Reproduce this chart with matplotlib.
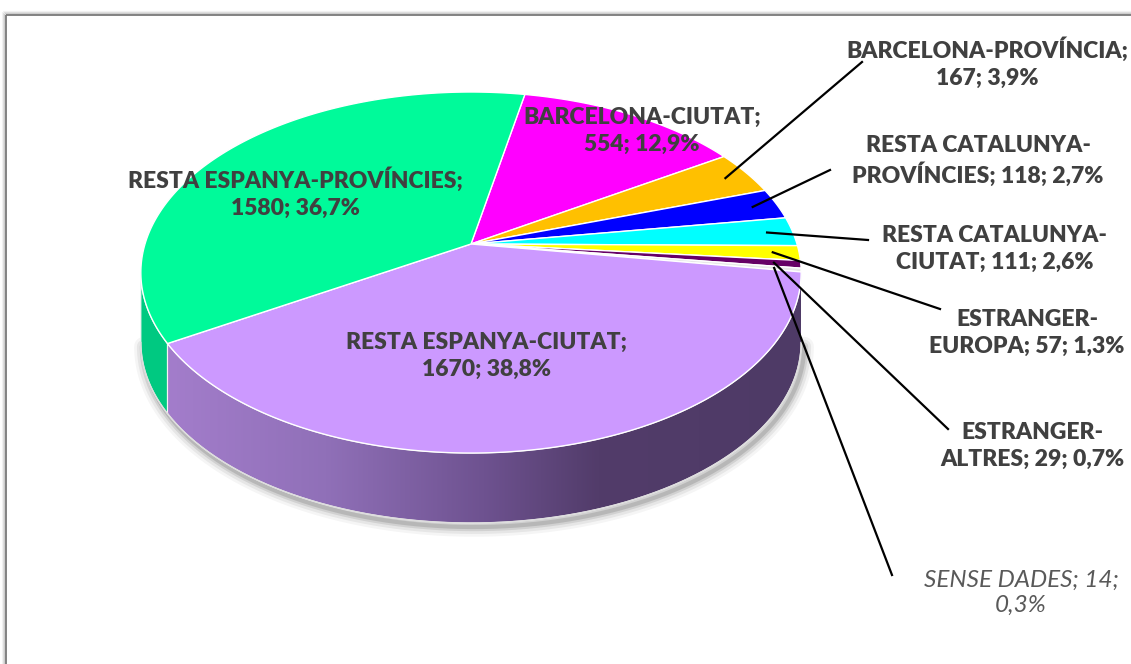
import numpy as np
import matplotlib
matplotlib.use("Agg")
import matplotlib.pyplot as plt
from matplotlib.patches import Polygon, Rectangle
from matplotlib.colors import LinearSegmentedColormap

# ---------------- data ----------------
categories = ["BARCELONA-CIUTAT", "BARCELONA-PROVÍNCIA", "RESTA CATALUNYA-PROVÍNCIES",
              "RESTA CATALUNYA-CIUTAT", "ESTRANGER-EUROPA", "ESTRANGER-ALTRES",
              "SENSE DADES", "RESTA ESPANYA-CIUTAT", "RESTA ESPANYA-PROVÍNCIES"]
values = [554, 167, 118, 111, 57, 29, 14, 1670, 1580]
colors = ["#FF00FF", "#FFC000", "#0000FF", "#00FFFF", "#FFFF00", "#660066",
          "#E8E8E8", "#CC99FF", "#00FA9A"]
side_colors = ["#B000B0", "#B08600", "#0000B0", "#00B0B0", "#B0B000", "#440044",
               "#A0A0A0", None, "#00C981"]
wrap = ["name", "name", "dash", "dash", "dash", "dash", "val", "name", "name"]
label_pos = [(642, 131), (987, 63), (978, 161), (995, 249), (1027, 333),
             (1032, 446), (1021, 593), (486, 356), (295, 193)]
leader_end = {1: (862, 62), 2: (830, 170), 3: (868, 240), 4: (940, 309),
              5: (948, 429), 6: (892, 575)}

# ---------------- geometry (pixels) ----------------
W, H = 1131, 664
CX, CY = 471, 244
A, B, P = 326, 176, 0.158
DEPTH = 70
START = 11.0


def proj(theta, r=1.0, dz=0.0):
    t = np.radians(theta)
    u = r * np.sin(t)
    v = r * np.cos(t)
    w = 1 + P * v
    return CX + A * u / w, CY - B * v / w + dz


fig = plt.figure(figsize=(W / 100, H / 100), dpi=100)
ax = fig.add_axes([0, 0, 1, 1])
ax.set_xlim(0, W)
ax.set_ylim(H, 0)
ax.axis("off")

# frame
for i, a in enumerate([0.05, 0.08, 0.12]):
    ax.add_patch(Rectangle((6 - 3 + i, 15 - 3 + i), 1200, 800, fill=False,
                           edgecolor="#000000", lw=1.5, alpha=a, zorder=0))
ax.add_patch(Rectangle((6, 15), 1200, 800, fill=False, edgecolor="#7A7A7A", lw=1.3, zorder=1))

total = sum(values)
fracs = np.array(values) / total
bounds = START + 360 * np.concatenate([[0], np.cumsum(fracs)])

vis0 = np.degrees(np.arccos(-P))          # right silhouette
vis1 = 360 - vis0                          # left silhouette

# shadow
ang = np.linspace(vis0, vis1, 200)
bx, by = proj(ang, dz=DEPTH)
for lw, al in [(14, 0.04), (10, 0.06), (6, 0.09), (3, 0.12)]:
    ax.plot(bx + 3, by + 4, color="#000000", lw=lw, alpha=al, solid_capstyle="round", zorder=2)

# side faces
lav_cmap = LinearSegmentedColormap.from_list(
    "lav", [(0, "#A37DCB"), (0.25, "#9070B8"), (0.5, "#6E5290"), (0.68, "#523C6A"), (1, "#4E3A66")])
for i in range(len(values)):
    a0, a1 = bounds[i], bounds[i + 1]
    for off in (0, 360):
        s0 = max(a0, vis0 + off)
        s1 = min(a1, vis1 + off)
        if s1 <= s0:
            continue
        aa = np.linspace(s0, s1, 150)
        x1, y1 = proj(aa)
        x2, y2 = proj(aa[::-1], dz=DEPTH)
        xs = np.concatenate([x1, x2])
        ys = np.concatenate([y1, y2])
        if side_colors[i] is None:
            poly = Polygon(np.column_stack([xs, ys]), closed=True, facecolor="none",
                           edgecolor="none", zorder=3)
            ax.add_patch(poly)
            grad = np.linspace(0, 1, 256).reshape(1, -1)
            im = ax.imshow(grad, cmap=lav_cmap, extent=[xs.min(), xs.max(), ys.max(), ys.min()],
                           aspect="auto", zorder=3, interpolation="bilinear")
            im.set_clip_path(poly)
            ax.plot(xs, ys, color="#F4F4F4", lw=0.8, zorder=4)
        else:
            ax.add_patch(Polygon(np.column_stack([xs, ys]), closed=True,
                                 facecolor=side_colors[i], edgecolor="#F4F4F4", lw=0.8, zorder=3))

# bottom outline of side
ax.plot(bx, by, color="#DDDDDD", lw=1.0, zorder=4)

# top faces
for i in range(len(values)):
    aa = np.linspace(bounds[i], bounds[i + 1], max(4, int((bounds[i + 1] - bounds[i]) * 3)))
    x, y = proj(aa)
    xs = np.concatenate([[CX], x])
    ys = np.concatenate([[CY], y])
    ax.add_patch(Polygon(np.column_stack([xs, ys]), closed=True, facecolor=colors[i],
                         edgecolor="white", lw=1.0, joinstyle="round", zorder=5))

# labels
fam = ["Lato", "DejaVu Sans"]
for i, (cat, val) in enumerate(zip(categories, values)):
    pct = f"{100 * val / total:.1f}".replace(".", ",") + "%"
    if wrap[i] == "name":
        txt = f"{cat};\n{val}; {pct}"
    elif wrap[i] == "dash":
        k = cat.index("-") + 1
        txt = f"{cat[:k]}\n{cat[k:]}; {val}; {pct}"
    else:
        txt = f"{cat}; {val};\n{pct}"
    italic = cat == "SENSE DADES"
    ax.text(label_pos[i][0], label_pos[i][1], txt, ha="center", va="center",
            fontsize=17.5 if italic else 16.5, family=fam,
            fontweight="normal" if italic else "heavy",
            fontstyle="italic" if italic else "normal",
            color="#595959" if italic else "#404040",
            linespacing=1.25 if italic else 1.33, zorder=8)
    if i in leader_end:
        mid = (bounds[i] + bounds[i + 1]) / 2
        sx, sy = proj(mid, r=0.92)
        ex, ey = leader_end[i]
        ax.plot([sx, ex], [sy, ey], color="black", lw=1.6, zorder=7)

fig.savefig("out.png", dpi=100)
